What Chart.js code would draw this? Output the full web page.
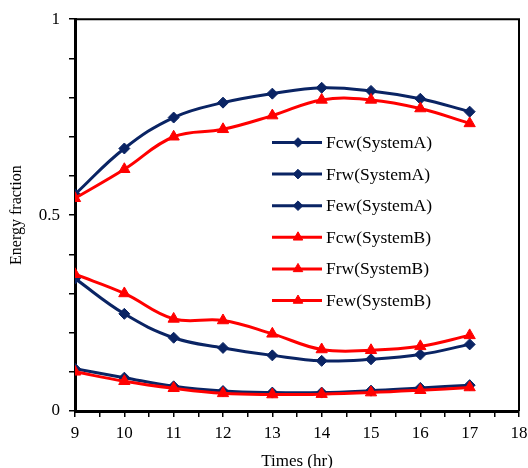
<!DOCTYPE html>
<html>
<head>
<meta charset="utf-8">
<script src="https://cdn.jsdelivr.net/npm/chart.js@4.4.0/dist/chart.umd.min.js"></script>
<style>
  body { margin: 0; background: #fff; }
  #mycanvas { display: block; }
</style>
</head>
<body>
<canvas id="mycanvas" width="528" height="468"></canvas>
<script>
// hours on x axis
var hours = [9, 10, 11, 12, 13, 14, 15, 16, 17];

// System A
var fcwA = [0.553, 0.670, 0.749, 0.787, 0.810, 0.825, 0.817, 0.797, 0.764];
var frwA = [0.338, 0.248, 0.187, 0.161, 0.142, 0.128, 0.132, 0.144, 0.170];
var fewA = [0.108, 0.085, 0.063, 0.051, 0.047, 0.047, 0.052, 0.059, 0.066];

// System B
var fcwB = [0.543, 0.617, 0.700, 0.719, 0.754, 0.794, 0.794, 0.772, 0.734];
var frwB = [0.349, 0.300, 0.235, 0.231, 0.197, 0.157, 0.155, 0.165, 0.193];
var fewB = [0.100, 0.076, 0.058, 0.045, 0.042, 0.043, 0.047, 0.053, 0.060];

var yLabels = [0, 0.5, 1];

var navy = '#0a2464';
var red = '#ff0000';
var font = 'Liberation Serif, Times New Roman, serif';

function pts(vals) {
	var out = [];
	for (var i in hours) {
		out.push({x: hours[i], y: vals[i]});
	}
	return out;
}

function seriesA(label, vals) {
	return {
		label: label, data: pts(vals),
		borderColor: navy, backgroundColor: navy,
		borderWidth: 3, pointStyle: 'rectRot', pointRadius: 5.5,
		pointBorderWidth: 1, tension: 0.4, order: 2
	};
}
function seriesB(label, vals) {
	return {
		label: label, data: pts(vals),
		borderColor: red, backgroundColor: red,
		borderWidth: 3, pointStyle: 'triangle', pointRadius: 6.5,
		pointBorderWidth: 1, tension: 0.4, order: 1
	};
}

// legend drawn inside the plot, plus the top/right frame
var extras = {
	id: 'extras',
	afterDraw: function(chart) {
		var ctx = chart.ctx;
		var a = chart.chartArea;
		ctx.save();
		ctx.strokeStyle = '#000';
		ctx.lineWidth = 2;
		ctx.beginPath();
		ctx.moveTo(a.left, a.top);
		ctx.lineTo(a.right, a.top);
		ctx.lineTo(a.right, a.bottom);
		ctx.stroke();

		var ds = chart.data.datasets;
		var x0 = 272, y0 = 142.5, gap = 31.6;
		ctx.font = '17.5px ' + font;
		ctx.textBaseline = 'middle';
		ctx.textAlign = 'left';
		for (var i = 0; i < ds.length; i++) {
			var y = y0 + i * gap;
			ctx.strokeStyle = ds[i].borderColor;
			ctx.lineWidth = 3;
			ctx.beginPath();
			ctx.moveTo(x0, y);
			ctx.lineTo(x0 + 50, y);
			ctx.stroke();
			ctx.fillStyle = ds[i].borderColor;
			ctx.lineWidth = 1;
			Chart.helpers.drawPoint(ctx, {
				pointStyle: ds[i].pointStyle,
				radius: ds[i].pointStyle === 'triangle' ? 5.5 : 4.8,
				borderWidth: 1,
				rotation: 0
			}, x0 + 26, y);
			ctx.fillStyle = '#000';
			ctx.fillText(ds[i].label, x0 + 54, y + 1);
		}
		ctx.restore();
	}
};

var ctx = document.getElementById('mycanvas');
var chart = new Chart(ctx, {
	type: 'line',
	data: {
		datasets: [
			seriesA('Fcw(SystemA)', fcwA),
			seriesA('Frw(SystemA)', frwA),
			seriesA('Few(SystemA)', fewA),
			seriesB('Fcw(SystemB)', fcwB),
			seriesB('Frw(SystemB)', frwB),
			seriesB('Few(SystemB)', fewB)
		]
	},
	options: {
		responsive: false,
		animation: false,
		layout: { padding: { left: 0, right: 9, top: 9, bottom: 0 } },
		plugins: { legend: { display: false }, tooltip: { enabled: false } },
		scales: {
			x: {
				type: 'linear', min: 9, max: 18,
				afterFit: function(s) { s.height = 57; s.paddingRight = 0; s.paddingLeft = 0; },
				border: { color: '#000', width: 3 },
				grid: { drawOnChartArea: false, color: '#000', lineWidth: 1.5, tickLength: 6 },
				ticks: {
					stepSize: 0.5, color: '#000', padding: 6,
					font: { family: font, size: 17 },
					maxRotation: 0, autoSkip: false,
					callback: function(v) { return Number.isInteger(v) ? String(v) : ''; }
				},
				title: { display: true, text: 'Times (hr)', color: '#000', font: { family: font, size: 17 }, padding: { top: 4, bottom: -4 } }
			},
			y: {
				min: 0, max: 1,
				afterFit: function(s) { s.width = 75; },
				border: { color: '#000', width: 3 },
				grid: { drawOnChartArea: false, color: '#000', lineWidth: 1.5, tickLength: 6 },
				ticks: {
					stepSize: 0.1, color: '#000', padding: 9, autoSkip: false,
					font: { family: font, size: 17 },
					callback: function(v) {
						for (var i in yLabels) {
							if (Math.abs(v - yLabels[i]) < 1e-6) return String(yLabels[i]);
						}
						return '';
					}
				},
				title: { display: true, text: 'Energy fraction', color: '#000', font: { family: font, size: 16 }, padding: { top: 7, bottom: 0 } }
			}
		}
	},
	plugins: [extras]
});
</script>
</body>
</html>
